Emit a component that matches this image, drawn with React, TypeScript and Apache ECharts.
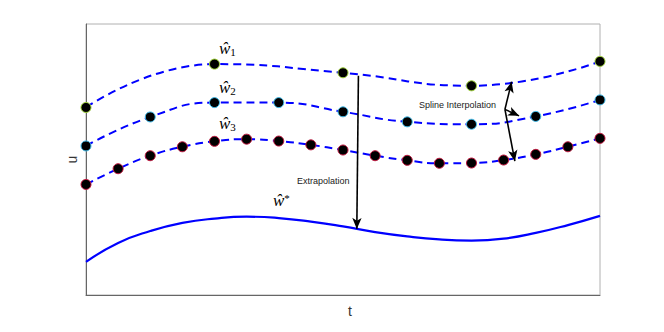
import React, { useEffect, useRef } from "react";
import * as echarts from "echarts";

const tW1 = [0, 4, 8, 12, 16];
const w1 = [6.92, 8.52, 8.2, 7.72, 8.62];
const tW2 = [0, 2, 4, 6, 8, 10, 12, 14, 16];
const w2 = [5.5, 6.57, 7.1, 7.1, 6.76, 6.39, 6.3, 6.59, 7.2];
const tW3 = [0, 1, 2, 3, 4, 5, 6, 7, 8, 9, 10, 11, 12, 13, 14, 15, 16];
const w3 = [4.08, 4.66, 5.14, 5.47, 5.67, 5.75, 5.68, 5.54, 5.35, 5.14, 4.97, 4.86, 4.87, 4.98, 5.19, 5.47, 5.78];
const tStar = [0, 1, 2, 3, 4, 5, 6, 7, 8, 9, 10, 11, 12, 13, 14, 15, 16];
const wStar = [1.22, 1.92, 2.36, 2.66, 2.82, 2.89, 2.84, 2.71, 2.53, 2.32, 2.16, 2.05, 2.01, 2.08, 2.29, 2.58, 2.92];

// arrows: [fromT, fromU, toT, toU]
const extrapArrow = [8.48, 8.09, 8.43, 2.44];
const splineArrows = [
  [13.04, 6.85, 13.25, 7.87],
  [13.04, 6.85, 13.48, 6.61],
  [13.04, 6.85, 13.35, 4.94],
];

const zip = (xs: number[], ys: number[]) => xs.map((x, i) => [x, ys[i]]);

const dotted = (name: string, xs: number[], ys: number[], border: string) => ({
  name,
  type: "line",
  data: zip(xs, ys),
  smooth: 0.5,
  symbol: "circle",
  symbolSize: 10,
  showSymbol: true,
  lineStyle: { color: "#0000ff", width: 2, type: [8, 5] },
  itemStyle: { color: "#000000", borderColor: border, borderWidth: 1 },
  z: 3,
});

const wLabel = (sub: string, x: number, y: number) => ({
  type: "text",
  x,
  y,
  style: {
    text: `{a|ŵ}{b|${sub}}`,
    rich: {
      a: { fontFamily: "Liberation Serif", fontStyle: "italic", fontSize: 17, fill: "#000" },
      b: { fontFamily: "Liberation Serif", fontSize: 11, fill: "#000", verticalAlign: "bottom", padding: [7, 0, 0, 0] },
    },
  },
});

export default function App() {
  const ref = useRef<HTMLDivElement>(null);
  useEffect(() => {
    document.body.style.margin = "0";
    if (!ref.current) return;
    const chart = echarts.init(ref.current, undefined, { renderer: "svg" });
    const arrowData = [extrapArrow, ...splineArrows].map((a) => [
      { coord: [a[0], a[1]] },
      { coord: [a[2], a[3]] },
    ]);
    chart.setOption({
      animation: false,
      grid: { left: 86, right: 64, top: 24, bottom: 37, show: true, borderColor: "#b0b0b0", borderWidth: 1 },
      xAxis: {
        type: "value",
        min: 0,
        max: 16,
        name: "t",
        nameLocation: "middle",
        nameGap: 9,
        nameTextStyle: { fontFamily: "Liberation Sans", fontSize: 14, color: "#333", padding: [0, 0, 0, 14] },
        axisLine: { show: true, lineStyle: { color: "#666", width: 1 } },
        axisTick: { show: false },
        axisLabel: { show: false },
        splitLine: { show: false },
      },
      yAxis: {
        type: "value",
        min: 0,
        max: 10,
        name: "u",
        nameLocation: "middle",
        nameGap: 7,
        nameTextStyle: { fontFamily: "Liberation Sans", fontSize: 14, color: "#333" },
        axisLine: { show: true, lineStyle: { color: "#666", width: 1 } },
        axisTick: { show: false },
        axisLabel: { show: false },
        splitLine: { show: false },
      },
      series: [
        {
          name: "w*",
          type: "line",
          data: zip(tStar, wStar),
          smooth: true,
          showSymbol: false,
          symbol: "none",
          lineStyle: { color: "#0000ff", width: 2.2 },
          z: 2,
          markLine: {
            silent: true,
            symbol: ["none", "arrow"],
            symbolSize: [7, 11],
            label: { show: false },
            lineStyle: { color: "#000", width: 1.6, type: "solid" },
            emphasis: { disabled: true },
            data: arrowData,
            z: 5,
          },
        },
        dotted("w1", tW1, w1, "#9acd32"),
        dotted("w2", tW2, w2, "#40c0f0"),
        dotted("w3", tW3, w3, "#c0143c"),
      ],
      graphic: [
        wLabel("1", 219, 39),
        wLabel("2", 219, 78),
        wLabel("3", 219, 114),
        {
          type: "text",
          x: 273,
          y: 192,
          style: {
            text: "{a|ŵ}{b|*}",
            rich: {
              a: { fontFamily: "Liberation Serif", fontStyle: "italic", fontSize: 17, fill: "#000" },
              b: { fontFamily: "Liberation Serif", fontSize: 11, fill: "#000", verticalAlign: "top", padding: [0, 0, 6, 0] },
            },
          },
        },
        {
          type: "text",
          x: 297,
          y: 176,
          style: { text: "Extrapolation", fontFamily: "Liberation Sans", fontSize: 9, fill: "#222" },
        },
        {
          type: "text",
          x: 419,
          y: 100,
          style: { text: "Spline Interpolation", fontFamily: "Liberation Sans", fontSize: 9, fill: "#222" },
        },
      ],
    });
    return () => chart.dispose();
  }, []);
  return <div ref={ref} style={{ width: 664, height: 332 }} />;
}
